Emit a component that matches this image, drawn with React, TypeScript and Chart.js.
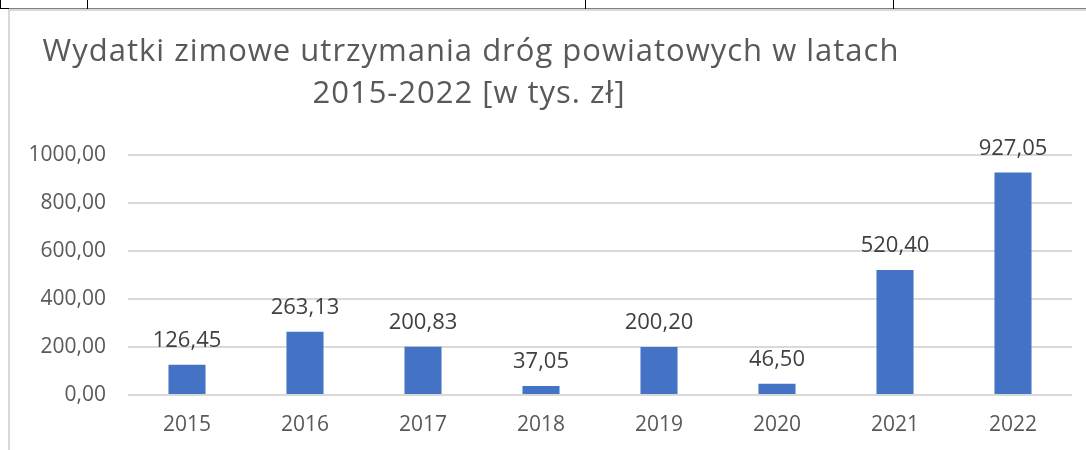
import React, { useEffect, useRef } from 'react';
import { Chart, registerables } from 'chart.js';

Chart.register(...registerables);

const categories = ['2015', '2016', '2017', '2018', '2019', '2020', '2021', '2022'];
const values = [126.45, 263.13, 200.83, 37.05, 200.2, 46.5, 520.4, 927.05];
const yTickValues = [0, 200, 400, 600, 800, 1000];
const titleLines = ['Wydatki zimowe utrzymania dróg powiatowych w latach', '2015-2022 [w tys. zł]'];

const FONT = '"Open Sans", "Noto Sans", sans-serif';
const fmt = (v: number) => v.toFixed(2).replace('.', ',');

const titlePlugin = {
  id: 'customTitle',
  afterDraw(chart: any) {
    const ctx = chart.ctx;
    ctx.save();
    ctx.font = `31px ${FONT}`;
    try {
      ctx.letterSpacing = '1px';
    } catch (e) {}
    ctx.fillStyle = '#595959';
    ctx.textAlign = 'center';
    ctx.textBaseline = 'alphabetic';
    ctx.fillText(titleLines[0], 471, 61);
    ctx.fillText(titleLines[1], 469, 103);
    ctx.restore();
  },
};

const labelPlugin = {
  id: 'valueLabels',
  afterDatasetsDraw(chart: any) {
    const ctx = chart.ctx;
    const meta = chart.getDatasetMeta(0);
    ctx.save();
    ctx.font = `22px ${FONT}`;
    ctx.fillStyle = '#404040';
    ctx.textAlign = 'center';
    ctx.textBaseline = 'alphabetic';
    meta.data.forEach((el: any, i: number) => {
      ctx.fillText(fmt(values[i]), el.x, el.y - 18);
    });
    ctx.restore();
  },
};

export default function App() {
  const ref = useRef<HTMLCanvasElement | null>(null);

  useEffect(() => {
    document.body.style.margin = '0';
    const canvas = ref.current;
    if (!canvas) return;
    const chart = new Chart(canvas, {
      type: 'bar',
      data: {
        labels: categories,
        datasets: [
          {
            data: values,
            backgroundColor: '#4472C4',
            borderWidth: 0,
            categoryPercentage: 1,
            barPercentage: 0.314,
          },
        ],
      },
      options: {
        animation: false,
        responsive: false,
        maintainAspectRatio: false,
        layout: { padding: { top: 155, left: 10, right: 14, bottom: 10 } },
        plugins: {
          legend: { display: false },
          title: { display: false },
          tooltip: { enabled: false },
        },
        scales: {
          x: {
            grid: { display: false, drawTicks: false },
            border: { display: false },
            ticks: {
              color: '#595959',
              font: { family: FONT, size: 21 },
              padding: 17,
            },
            afterFit: (scale: any) => {
              scale.height = 45;
            },
          },
          y: {
            min: 0,
            max: 1000,
            afterBuildTicks: (scale: any) => {
              scale.ticks = yTickValues.map((v) => ({ value: v }));
            },
            grid: { color: '#d9d9d9', lineWidth: 2, drawTicks: false },
            border: { display: false },
            ticks: {
              color: '#595959',
              font: { family: FONT, size: 21 },
              padding: 22,
              callback: (v: any) => fmt(Number(v)),
            },
            afterFit: (scale: any) => {
              scale.width = 118;
            },
          },
        },
      },
      plugins: [titlePlugin, labelPlugin],
    });
    return () => chart.destroy();
  }, []);

  return (
    <div style={{ position: 'relative', width: 1086, height: 450, background: '#fff', overflow: 'hidden' }}>
      <div style={{ position: 'absolute', left: 0, top: 8, width: 9, height: 1, background: '#000' }} />
      <div style={{ position: 'absolute', left: 9, top: 8, width: 1077, height: 1, background: '#808080' }} />
      <div style={{ position: 'absolute', left: 0, top: 0, width: 1, height: 9, background: '#000' }} />
      <div style={{ position: 'absolute', left: 87, top: 0, width: 1, height: 9, background: '#000' }} />
      <div style={{ position: 'absolute', left: 585, top: 0, width: 1, height: 9, background: '#000' }} />
      <div style={{ position: 'absolute', left: 893, top: 0, width: 1, height: 9, background: '#000' }} />
      <div style={{ position: 'absolute', left: 8, top: 9, width: 1078, height: 2, background: '#d9d9d9' }} />
      <div style={{ position: 'absolute', left: 8, top: 9, width: 2, height: 441, background: '#d9d9d9' }} />
      <canvas ref={ref} width={1086} height={450} style={{ position: 'absolute', left: 0, top: 0 }} />
    </div>
  );
}
